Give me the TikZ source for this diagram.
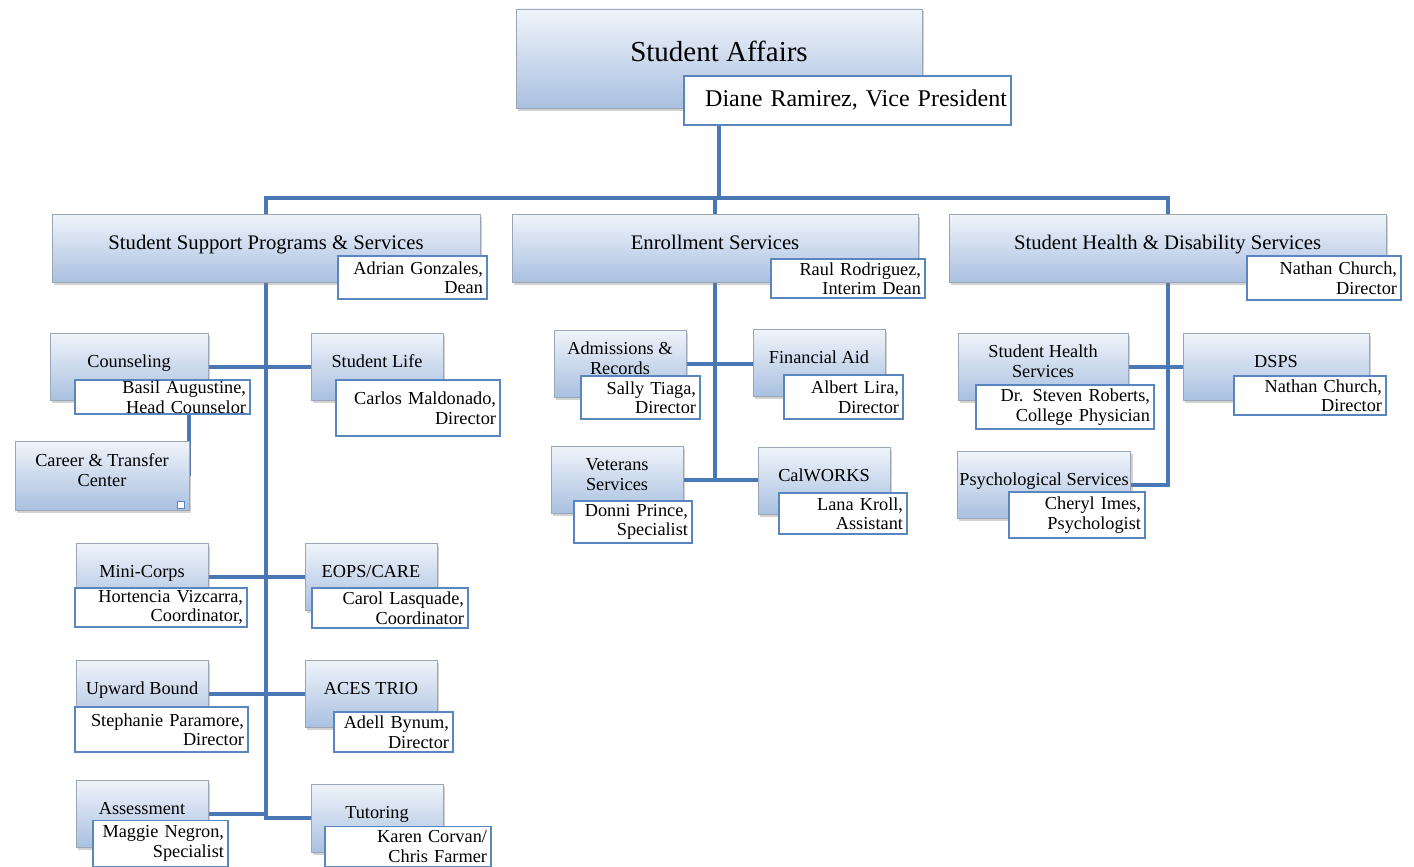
\documentclass[tikz,border=0pt]{standalone}
\usepackage{fontspec}
\setmainfont{Liberation Serif}
\usetikzlibrary{shadows}
\usetikzlibrary{backgrounds}
\definecolor{boxtop}{HTML}{F0F4FA}
\definecolor{boxbot}{HTML}{A9C0E0}
\definecolor{boxline}{HTML}{9AA6B6}
\definecolor{wholine}{HTML}{5A86C0}
\definecolor{linkcol}{HTML}{4A78B4}
% title set a little above the middle of its box
\newcommand{\boxtitle}[1]{\raisebox{3pt}[\height][\depth]{\begin{tabular}{@{}c@{}}#1\end{tabular}}}
\tikzset{
	org_unit/.style = {rectangle, draw=boxline, top color=boxtop, bottom color=boxbot,
		drop shadow={shadow xshift=2pt, shadow yshift=-2.5pt, opacity=0.35},
		align=center, inner sep=2pt, font=\fontsize{18.3}{19.5}\selectfont},% service
	org_dept/.style = {org_unit, font=\fontsize{20.7}{22}\selectfont},% division
	org_head/.style = {org_unit, font=\fontsize{29}{30}\selectfont},% vice presidence
	org_who/.style = {rectangle, draw=wholine, fill=white, line width=1.2pt,
		align=right, inner xsep=4pt, inner ysep=0pt,
		font=\fontsize{18.3}{19.5}\selectfont},% responsable
	org_link/.style = {draw=linkcol, line width=4pt}
}
\begin{document}
\begin{tikzpicture}[x=1pt, y=-1pt]
	\useasboundingbox (0,0) rectangle (1414,867);
	% vice president
	\node[org_head, minimum width=406, minimum height=99] (sa) at (719,58.5) {\boxtitle{Student Affairs}};
	\node[org_who, text width=319, minimum height=49, font=\fontsize{24}{26}\selectfont] (sa_w) at (847.5,100.5) {Diane Ramirez, Vice President};
	% divisions
	\node[org_dept, minimum width=428, minimum height=68] (ssps) at (266,248) {\boxtitle{Student Support Programs \& Services}};
	\node[org_who, text width=141, minimum height=43] (ssps_w) at (412.5,277.5) {Adrian Gonzales,\\Dean};
	\node[org_dept, minimum width=406, minimum height=68] (es) at (715,248) {\boxtitle{Enrollment Services}};
	\node[org_who, text width=146, minimum height=39] (es_w) at (848,278.5) {Raul Rodriguez,\\Interim Dean};
	\node[org_dept, minimum width=437, minimum height=68] (shds) at (1167.5,248) {\boxtitle{Student Health \& Disability Services}};
	\node[org_who, text width=146, minimum height=44] (shds_w) at (1324,278) {Nathan Church,\\Director};
	% student support programs
	\node[org_unit, minimum width=158, minimum height=67] (couns) at (129,366.5) {\boxtitle{Counseling}};
	\node[org_who, text width=167, minimum height=34] (couns_w) at (162.5,397) {Basil Augustine,\\Head Counselor};
	\node[org_unit, minimum width=132, minimum height=67] (life) at (377,366.5) {\boxtitle{Student Life}};
	\node[org_who, text width=156, minimum height=56] (life_w) at (418,408) {Carlos Maldonado,\\Director};
	\node[org_unit, minimum width=174, minimum height=69] (career) at (102,475.5) {\boxtitle{Career \& Transfer\\Center}};
	\node[draw=wholine, fill=white, line width=0.8pt, minimum size=7pt, inner sep=0pt] (handle) at (181,505) {};
	\node[org_unit, minimum width=132, minimum height=67] (mini) at (142,576.5) {\boxtitle{Mini-Corps}};
	\node[org_who, text width=164, minimum height=39] (mini_w) at (161,607.5) {Hortencia Vizcarra,\\Coordinator,};
	\node[org_unit, minimum width=132, minimum height=67] (eops) at (371,576.5) {\boxtitle{EOPS/CARE}};
	\node[org_who, text width=148, minimum height=40] (eops_w) at (390,608) {Carol Lasquade,\\Coordinator};
	\node[org_unit, minimum width=132, minimum height=67] (upward) at (142,693.5) {\boxtitle{Upward Bound}};
	\node[org_who, text width=165, minimum height=45] (upward_w) at (161.5,729.5) {Stephanie Paramore,\\Director};
	\node[org_unit, minimum width=132, minimum height=67] (aces) at (371,693.5) {\boxtitle{ACES TRIO}};
	\node[org_who, text width=111, minimum height=40] (aces_w) at (393.5,732) {Adell Bynum,\\Director};
	\node[org_unit, minimum width=132, minimum height=67] (assess) at (142,813.5) {\boxtitle{Assessment}};
	\node[org_who, text width=127, minimum height=46] (assess_w) at (160.5,843.5) {Maggie Negron,\\Specialist};
	\node[org_unit, minimum width=132, minimum height=68] (tutor) at (377,818) {\boxtitle{Tutoring}};
	\node[org_who, text width=158, minimum height=40] (tutor_w) at (408,846.5) {Karen Corvan/\\Chris Farmer};
	% enrollment services
	\node[org_unit, minimum width=132, minimum height=67] (admis) at (620,363.5) {\boxtitle{Admissions \&\\Records}};
	\node[org_who, text width=111, minimum height=43] (admis_w) at (640.5,397.5) {Sally Tiaga,\\Director};
	\node[org_unit, minimum width=132, minimum height=67] (finaid) at (819,362.5) {\boxtitle{Financial Aid}};
	\node[org_who, text width=111, minimum height=44] (finaid_w) at (843.5,397) {Albert Lira,\\Director};
	\node[org_unit, minimum width=132, minimum height=67] (vets) at (617,479.5) {\boxtitle{Veterans\\Services}};
	\node[org_who, text width=110, minimum height=42] (vets_w) at (633,522) {Donni Prince,\\Specialist};
	\node[org_unit, minimum width=132, minimum height=67] (calw) at (824,480.5) {\boxtitle{CalWORKS}};
	\node[org_who, text width=120, minimum height=41] (calw_w) at (843,513.5) {Lana Kroll,\\Assistant};
	% student health
	\node[org_unit, minimum width=170, minimum height=67] (shs) at (1043,366.5) {\boxtitle{Student Health\\Services}};
	\node[org_who, text width=170, minimum height=44] (shs_w) at (1065,407) {Dr. Steven Roberts,\\College Physician};
	\node[org_unit, minimum width=186, minimum height=67] (dsps) at (1276,366.5) {\boxtitle{DSPS}};
	\node[org_who, text width=144, minimum height=39] (dsps_w) at (1310,395.5) {Nathan Church,\\Director};
	\node[org_unit, minimum width=172, minimum height=67] (psych) at (1044,484.5) {\boxtitle{Psychological Services}};
	\node[org_who, text width=128, minimum height=46] (psych_w) at (1077,515) {Cheryl Imes,\\Psychologist};
	\coordinate (bus) at (717,198);
	\begin{scope}[on background layer]
		\fill[white] (0,0) rectangle (1414,867);
		\draw[org_link] (sa.south) -- (sa.south |- bus);
		\draw[org_link] (ssps.north) |- (bus) -| (shds.north);
		\draw[org_link] (es.north) -- (es.north |- bus);
		\draw[org_link] (ssps.south) -- (ssps.south |- tutor.west) -- (tutor.west);
		\draw[org_link] (couns.east) -- (life.west);
		\draw[org_link] (career.east) -- (career.east |- couns_w.south);
		\draw[org_link] (mini.east) -- (eops.west);
		\draw[org_link] (upward.east) -- (aces.west);
		\draw[org_link] (assess.east) -- (ssps.south |- assess.east);
		\draw[org_link] (es.south) -- (es.south |- vets.east);
		\draw[org_link] (admis.east) -- (admis.east -| finaid.west);
		\draw[org_link] (vets.east) -- (vets.east -| calw.west);
		\draw[org_link] (shds.south) -- (shds.south |- psych.east) -- (psych.east);
		\draw[org_link] (shs.east) -- (dsps.west);
	\end{scope}
\end{tikzpicture}
\end{document}
